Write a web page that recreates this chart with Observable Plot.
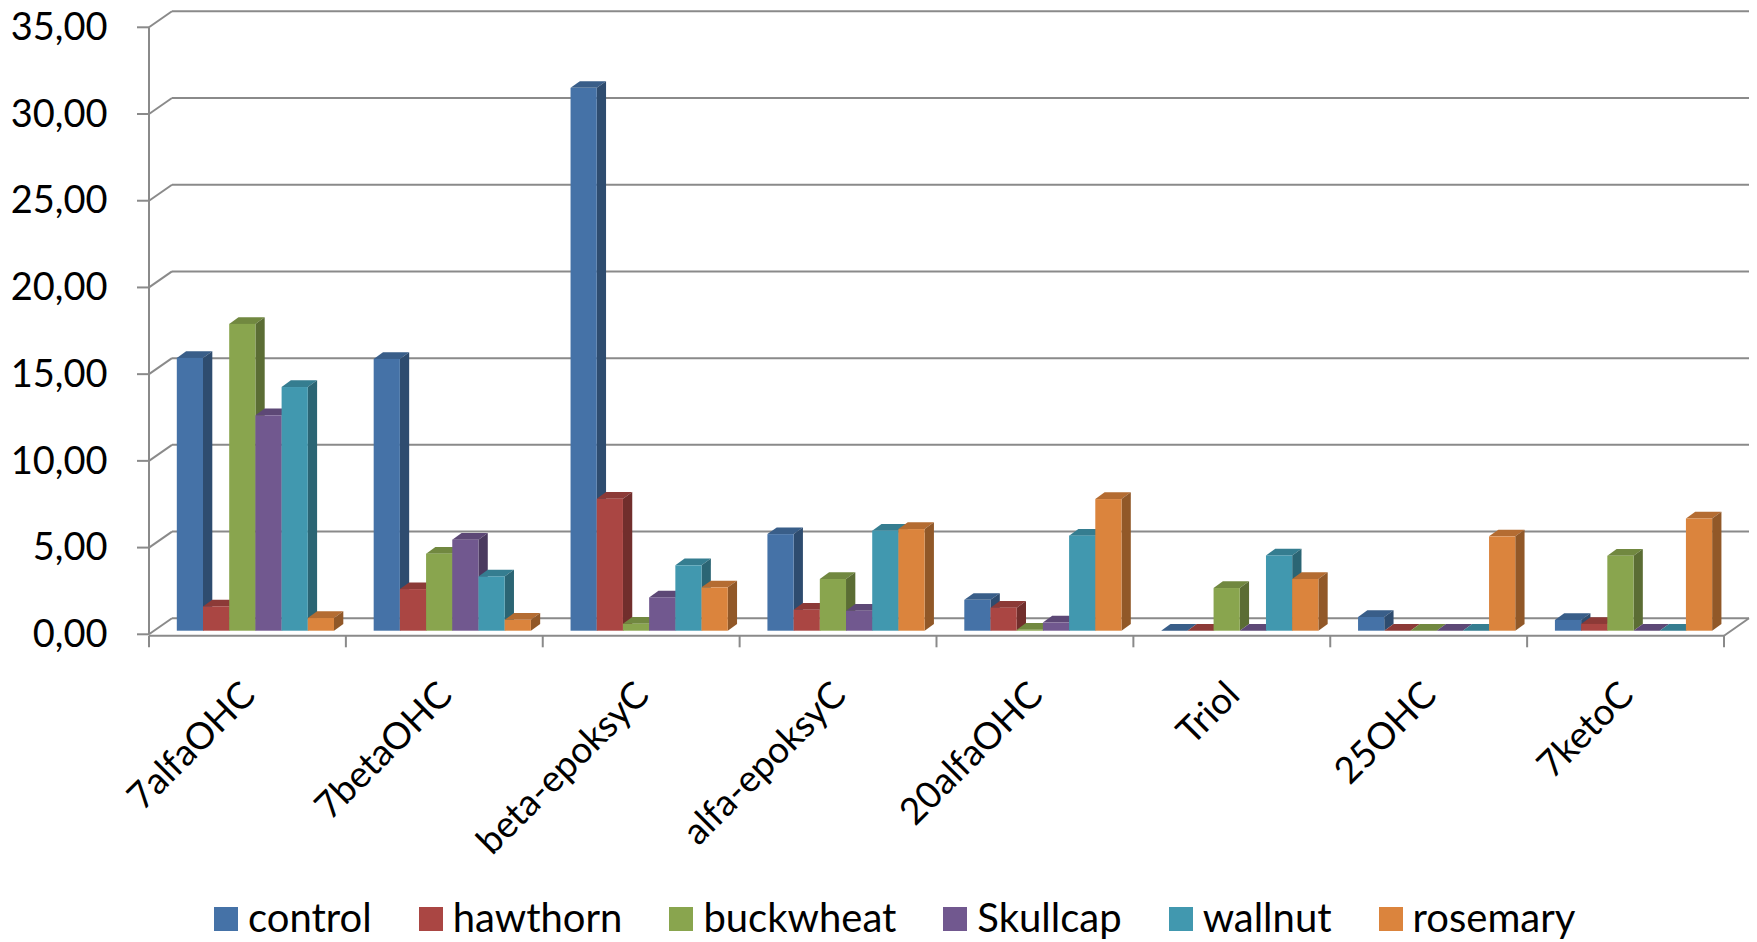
<!DOCTYPE html>
<html>
<head>
<meta charset="utf-8">
<script src="https://cdn.jsdelivr.net/npm/d3@7"></script>
<script src="https://cdn.jsdelivr.net/npm/@observablehq/plot@0.6"></script>
<style>
  html, body { margin: 0; padding: 0; background: #fff; }
  #chart { width: 1757px; height: 942px; overflow: hidden; position: relative; background: #fff; }
  #chart svg.main { display: block; }
  #chart .lg-swatches { margin: 13px 0 0 214px !important; font-family: Lato, sans-serif !important; font-size: 40px !important; color: #000; }
  #chart .lg-swatch { margin-right: 47px !important; }
  #chart .lg-swatch > svg { margin-right: 10px !important; margin-top: 4px; }
</style>
</head>
<body>
<div id="chart"></div>
<script>
// Oxysterol categories and measured amounts per treatment
const categories = ["7alfaOHC", "7betaOHC", "beta-epoksyC", "alfa-epoksyC", "20alfaOHC", "Triol", "25OHC", "7ketoC"];
const series = ["control", "hawthorn", "buckwheat", "Skullcap", "wallnut", "rosemary"];

const control   = [15.73, 15.67, 31.30, 5.57, 1.78, 0.00, 0.79, 0.62];
const hawthorn  = [1.40, 2.40, 7.61, 1.21, 1.33, 0.00, 0.00, 0.39];
const buckwheat = [17.69, 4.44, 0.40, 2.98, 0.06, 2.46, 0.00, 4.32];
const skullcap  = [12.42, 5.25, 1.92, 1.15, 0.47, 0.00, 0.00, 0.00];
const wallnut   = [14.05, 3.13, 3.77, 5.77, 5.48, 4.34, 0.00, 0.00];
const rosemary  = [0.73, 0.63, 2.50, 5.86, 7.59, 2.98, 5.44, 6.47];

const yTicks = [0, 5, 10, 15, 20, 25, 30, 35];
const colors = ["#4572A7", "#AA4643", "#89A54E", "#71588F", "#4198AF", "#DB843D"];

const valuesBySeries = {control, hawthorn, buckwheat, Skullcap: skullcap, wallnut, rosemary};
const rows = series.flatMap(s => categories.map((c, j) => ({category: c, series: s, value: valuesBySeries[s][j]})));

// Layout
const W = 1757, H = 880;
const mLeft = 149, mRight = 33, mTop = 27.3, mBottom = H - 634.3;
const band = (W - mLeft - mRight) / categories.length;
const groupOffset = 27.8, barW = 26.2;        // bar placement inside a category band
const barShift = -3.6;                         // bars sit slightly behind the front edge of the floor
const depthX = 9.3, depthY = -6.7;             // bar depth
const wallX = 23, wallY = -16;                 // depth of the chart box
const gridColor = "#8a8a8a";
const fmt = d => d.toFixed(2).replace(".", ",");

// Back wall gridlines, side wall, floor and axis lines
const box = (index, {x, y}) => {
  const g = d3.create("svg:g").attr("fill", "none").attr("stroke", gridColor).attr("stroke-width", 2);
  const [x0, x1] = x.range();
  const y0 = y(0);
  for (const t of yTicks) {
    const yf = y(t);
    g.append("line").attr("x1", x0 + wallX).attr("x2", x1 + wallX + 2).attr("y1", yf + wallY).attr("y2", yf + wallY);
    g.append("line").attr("x1", x0).attr("x2", x0 + wallX).attr("y1", yf).attr("y2", yf + wallY);
    g.append("line").attr("x1", x0 - 12).attr("x2", x0).attr("y1", yf).attr("y2", yf);
  }
  g.append("line").attr("x1", x0).attr("x2", x0).attr("y1", y(yTicks[yTicks.length - 1])).attr("y2", y0);
  // floor front edge
  g.append("line").attr("x1", x0).attr("x2", x1).attr("y1", y0 + 1.5).attr("y2", y0 + 1.5);
  g.append("line").attr("x1", x1).attr("x2", x1 + wallX + 2).attr("y1", y0 + 1.5).attr("y2", y0 + wallY);
  // category separators
  const bw = x.bandwidth();
  for (let k = 0; k <= categories.length; k++) {
    const xs = x0 + k * bw;
    g.append("line").attr("x1", xs).attr("x2", xs).attr("y1", y0 + 1.5).attr("y2", y0 + 13);
  }
  return g.node();
};

// Top and side faces of the columns
const faces = (index, {x, y, color}) => {
  const g = d3.create("svg:g");
  for (const r of rows) {
    const i = series.indexOf(r.series);
    const xa = x(r.category) + groupOffset + i * barW, xb = xa + barW;
    const yb = y(0) + barShift, yt = y(r.value) + barShift;
    const base = d3.color(color(r.series));
    g.append("path")
      .attr("d", `M${xa},${yt}L${xa + depthX},${yt + depthY}L${xb + depthX},${yt + depthY}L${xb},${yt}Z`)
      .attr("fill", base.darker(0.55).formatHex());
    g.append("path")
      .attr("d", `M${xb},${yt}L${xb + depthX},${yt + depthY}L${xb + depthX},${yb + depthY}L${xb},${yb}Z`)
      .attr("fill", base.darker(1.15).formatHex());
  }
  return g.node();
};

// Front faces: one bar mark per treatment, offset inside the category band
const fronts = series.map((s, i) => Plot.barY(rows.filter(r => r.series === s), {
  x: "category",
  y: "value",
  fill: "series",
  insetLeft: groupOffset + i * barW,
  insetRight: band - (groupOffset + (i + 1) * barW),
  dy: barShift
}));

const chart = Plot.plot({
  width: W,
  height: H,
  marginLeft: mLeft,
  marginRight: mRight,
  marginTop: mTop,
  marginBottom: mBottom,
  x: {domain: categories, padding: 0, round: false, axis: null},
  y: {domain: [0, 35], axis: null},
  color: {domain: series, range: colors},
  style: {fontFamily: "Lato, sans-serif", background: "#fff", color: "#000", overflow: "visible"},
  marks: [
    box,
    faces,
    ...fronts,
    Plot.text(yTicks, {y: d => d, text: d => fmt(d), frameAnchor: "left", textAnchor: "end", dx: -42, fontSize: 38, fill: "#000"}),
    Plot.text(categories, {x: d => d, text: d => d, frameAnchor: "bottom", rotate: -45, textAnchor: "end", lineAnchor: "middle", dx: 1, dy: 54, fontSize: 37, fill: "#000"})
  ]
});
chart.classList.add("main");

const legend = chart.legend("color", {className: "lg", swatchWidth: 24, swatchHeight: 24});

const root = document.getElementById("chart");
root.append(chart);
if (legend) root.append(legend);
</script>
</body>
</html>
